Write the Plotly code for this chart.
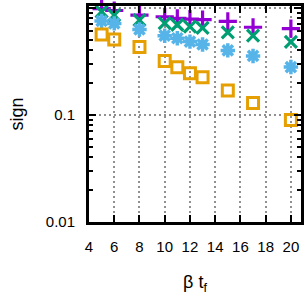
import plotly.graph_objects as go

beta_tf = [5, 6, 8, 10, 11, 12, 13, 15, 17, 20]
s_purple = [0.98, 0.94, 0.85, 0.822, 0.795, 0.782, 0.772, 0.745, 0.656, 0.638]
s_green = [0.915, 0.85, 0.766, 0.718, 0.692, 0.663, 0.648, 0.587, 0.547, 0.478]
s_blue = [0.75, 0.712, 0.625, 0.547, 0.518, 0.482, 0.453, 0.399, 0.354, 0.279]
s_orange = [0.56, 0.503, 0.428, 0.317, 0.277, 0.244, 0.224, 0.169, 0.129, 0.0893]

x_ticks = [4, 6, 8, 10, 12, 14, 16, 18, 20]
y_ticks = [0.01, 0.1, 1]
y_ticktext = ["0.01", "0.1", "1"]

fig = go.Figure()
series = [
    (s_purple, "#9400D3", "cross-thin-open", 13, 3.2),
    (s_green, "#009E73", "x-thin-open", 12, 3.2),
    (s_blue, "#56B4E9", "asterisk-open", 12, 3.5),
    (s_orange, "#E69F00", "square-open", 11, 3),
]
for vals, col, sym, sz, lw in series:
    fig.add_trace(go.Scatter(
        x=beta_tf, y=vals, mode="markers",
        marker=dict(symbol=sym, size=sz, color=col,
                    line=dict(color=col, width=lw)),
        showlegend=False, cliponaxis=False, hoverinfo="skip",
    ))

font = dict(family="Liberation Sans, Arial, sans-serif", size=15, color="black")
fig.update_layout(
    width=307, height=303,
    margin=dict(l=89, r=5, t=3, b=81),
    paper_bgcolor="white", plot_bgcolor="white",
    font=font,
)
fig.update_xaxes(
    range=[4, 20.8], tickvals=x_ticks,
    showline=True, linewidth=3, linecolor="black", mirror="ticks",
    ticks="inside", ticklen=7, tickwidth=2, tickcolor="black",
    showgrid=True, gridcolor="#909090", griddash="2px,3px", gridwidth=2,
    zeroline=False, ticklabelstandoff=9,
    title=dict(text="β t<sub>f</sub>", standoff=22),
)
fig.update_yaxes(
    type="log", range=[-2, 0.015], tickvals=y_ticks, ticktext=y_ticktext,
    showline=True, linewidth=3, linecolor="black", mirror="ticks",
    ticks="inside", ticklen=7, tickwidth=2, tickcolor="black",
    showgrid=True, gridcolor="#909090", griddash="2px,3px", gridwidth=2,
    zeroline=False, ticklabelstandoff=8,
    minor=dict(ticks="inside", ticklen=4, tickwidth=2, tickcolor="black",
               dtick="D1", showgrid=False),
    title=dict(text="sign", standoff=18),
)
fig.write_html("out.html", config={"displayModeBar": False},
               post_script="document.body.style.margin='0';document.body.style.overflow='hidden';")
